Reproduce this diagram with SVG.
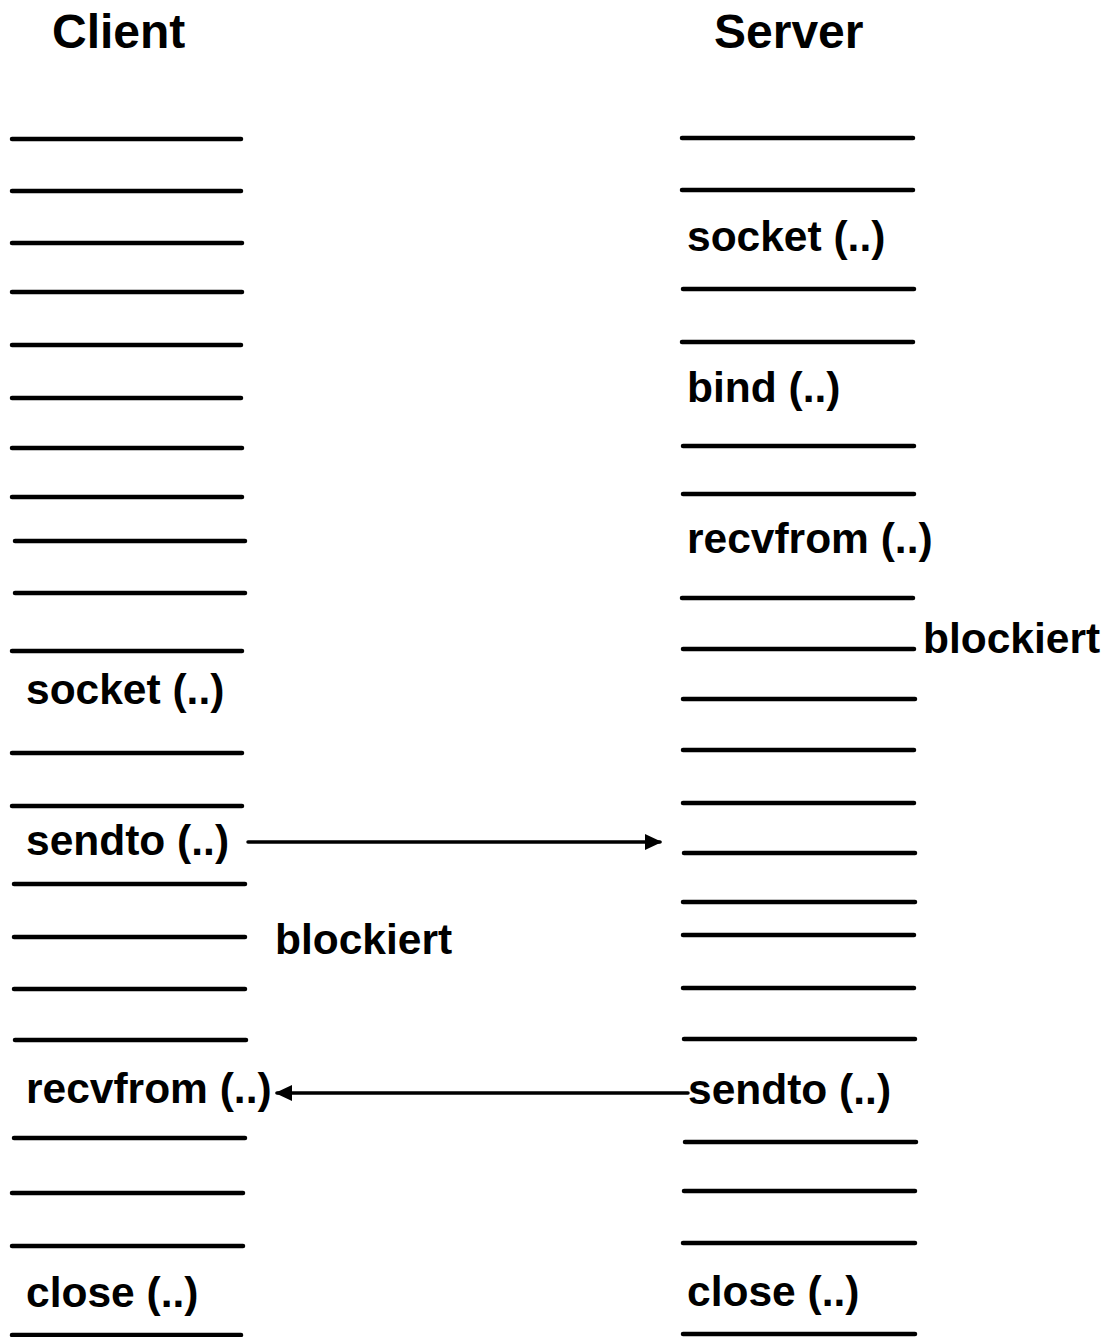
<svg xmlns="http://www.w3.org/2000/svg" width="1106" height="1337" viewBox="0 0 1106 1337">
<style>
  .t { font-family: "Liberation Sans", Arial, sans-serif; font-weight: bold; fill: #000; }
  .h { font-size: 48px; }
  .l { font-size: 42.5px; }
  .ln line { stroke: #000; stroke-width: 4.5; stroke-linecap: round; }
  .c { stroke: #000; stroke-width: 3.5; stroke-linecap: round; fill: none; }
</style>
<defs>
  <marker id="ah" viewBox="0 0 17 16" refX="15" refY="8" markerWidth="17" markerHeight="16" markerUnits="userSpaceOnUse" orient="auto">
    <path d="M0,0 L17,8 L0,16 z" fill="#000"/>
  </marker>
</defs>
<rect width="1106" height="1337" fill="#fff"/>
<g id="client">
  <text class="t h" x="52" y="48">Client</text>
  <g class="ln">
    <line x1="12" y1="139" x2="241" y2="139"/>
    <line x1="12" y1="191" x2="241" y2="191"/>
    <line x1="12" y1="243" x2="242" y2="243"/>
    <line x1="12" y1="292" x2="242" y2="292"/>
    <line x1="12" y1="345" x2="241" y2="345"/>
    <line x1="12" y1="398" x2="241" y2="398"/>
    <line x1="12" y1="448" x2="242" y2="448"/>
    <line x1="12" y1="497" x2="242" y2="497"/>
    <line x1="15" y1="541" x2="245" y2="541"/>
    <line x1="15" y1="593" x2="245" y2="593"/>
    <line x1="12" y1="651" x2="242" y2="651"/>
    <line x1="12" y1="753" x2="242" y2="753"/>
    <line x1="12" y1="806" x2="242" y2="806"/>
    <line x1="14" y1="884" x2="245" y2="884"/>
    <line x1="14" y1="937" x2="245" y2="937"/>
    <line x1="14" y1="989" x2="245" y2="989"/>
    <line x1="15" y1="1040" x2="246" y2="1040"/>
    <line x1="14" y1="1138" x2="245" y2="1138"/>
    <line x1="12" y1="1193" x2="243" y2="1193"/>
    <line x1="12" y1="1246" x2="243" y2="1246"/>
    <line x1="12" y1="1335" x2="241" y2="1335"/>
  </g>
  <text id="c-socket" class="t l" x="26" y="704">socket (..)</text>
  <text id="c-sendto" class="t l" x="26" y="855">sendto (..)</text>
  <text id="c-blockiert" class="t l" x="275" y="954">blockiert</text>
  <text id="c-recvfrom" class="t l" x="26" y="1103">recvfrom (..)</text>
  <text id="c-close" class="t l" x="26" y="1307">close (..)</text>
</g>
<g id="server">
  <text class="t h" x="714" y="48">Server</text>
  <g class="ln">
    <line x1="682" y1="138" x2="913" y2="138"/>
    <line x1="682" y1="190" x2="913" y2="190"/>
    <line x1="683" y1="289" x2="914" y2="289"/>
    <line x1="682" y1="342" x2="913" y2="342"/>
    <line x1="683" y1="446" x2="914" y2="446"/>
    <line x1="683" y1="494" x2="914" y2="494"/>
    <line x1="682" y1="598" x2="913" y2="598"/>
    <line x1="683" y1="649" x2="914" y2="649"/>
    <line x1="683" y1="699" x2="915" y2="699"/>
    <line x1="683" y1="750" x2="914" y2="750"/>
    <line x1="683" y1="803" x2="914" y2="803"/>
    <line x1="684" y1="853" x2="915" y2="853"/>
    <line x1="683" y1="902" x2="915" y2="902"/>
    <line x1="683" y1="935" x2="914" y2="935"/>
    <line x1="683" y1="988" x2="914" y2="988"/>
    <line x1="684" y1="1039" x2="915" y2="1039"/>
    <line x1="685" y1="1142" x2="916" y2="1142"/>
    <line x1="684" y1="1191" x2="915" y2="1191"/>
    <line x1="683" y1="1243" x2="915" y2="1243"/>
    <line x1="683" y1="1334" x2="915" y2="1334"/>
  </g>
  <text id="s-socket" class="t l" x="687" y="251">socket (..)</text>
  <text id="s-bind" class="t l" x="687" y="402">bind (..)</text>
  <text id="s-recvfrom" class="t l" x="687" y="553">recvfrom (..)</text>
  <text id="s-blockiert" class="t l" x="923" y="653">blockiert</text>
  <text id="s-sendto" class="t l" x="688" y="1104">sendto (..)</text>
  <text id="s-close" class="t l" x="687" y="1306">close (..)</text>
</g>
<g id="connectors">
  <path class="c" d="M248,842 H660" marker-end="url(#ah)"/>
  <path class="c" d="M688,1093 H277" marker-end="url(#ah)"/>
</g>
</svg>
